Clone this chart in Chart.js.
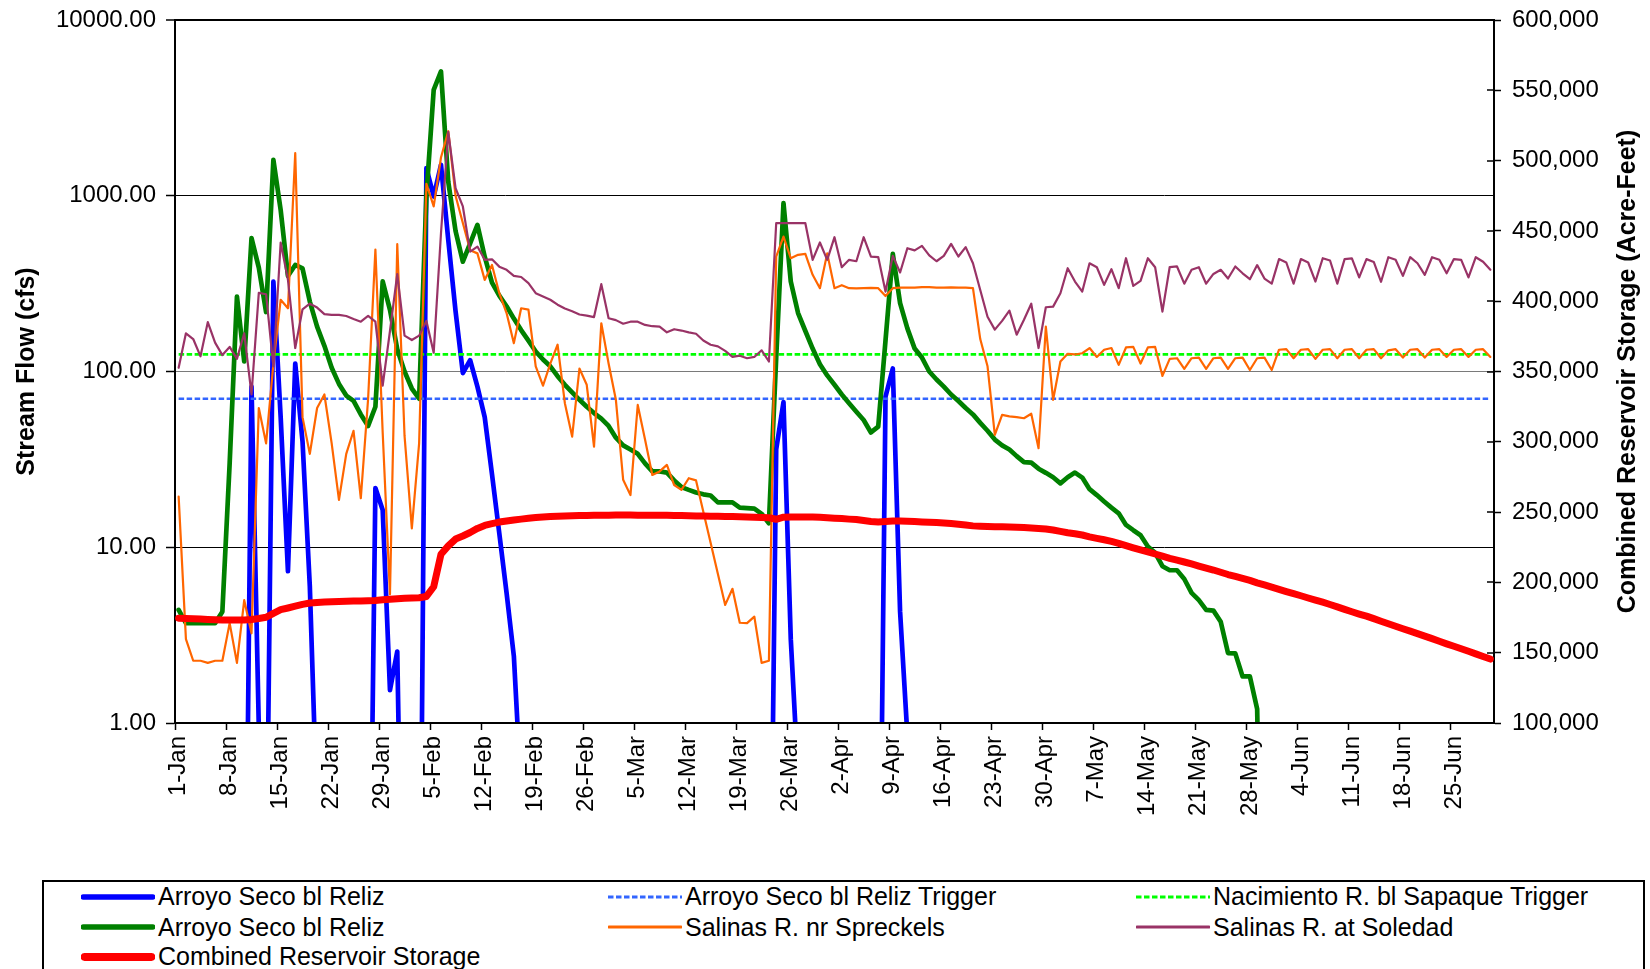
<!DOCTYPE html>
<html>
<head>
<meta charset="utf-8">
<title>Stream Flow and Combined Reservoir Storage</title>
<script src="https://cdn.jsdelivr.net/npm/chart.js@4.4.1/dist/chart.umd.min.js"></script>
<style>
  html, body { margin: 0; padding: 0; background: #fff; }
  #wrap { position: relative; width: 1650px; height: 969px; overflow: hidden; }
  #c { position: absolute; left: 0; top: 0; }
  #legend { position: absolute; left: 42px; top: 880px; width: 1603px; height: 120px;
            border: 2px solid #000; box-sizing: border-box; background: #fff; }
  .item { position: absolute; height: 30px; display: flex; align-items: center;
          font: 25px 'Liberation Sans', Arial, sans-serif; color: #000; white-space: nowrap; }
  .item svg { display: block; margin-right: 3px; }
</style>
</head>
<body>
<div id="wrap">
  <canvas id="c" width="1650" height="969"></canvas>
  <div id="legend"></div>
</div>
<script>
// ---- categories: daily, 1-Jan through 30-Jun ----
const monthLengths = [['Jan', 31], ['Feb', 28], ['Mar', 31], ['Apr', 30], ['May', 31], ['Jun', 30]];
const days = [];
monthLengths.forEach(([m, n]) => { for (let d = 1; d <= n; d++) days.push(d + '-' + m); });

// ---- left axis ticks (cfs, log scale) ----
const flowTicks = [1, 10, 100, 1000, 10000];

// ---- trigger flows (cfs) ----
const arroyoSecoTrigger = 70;
const nacimientoTrigger = 125;

// ---- Arroyo Seco bl Reliz, blue trace (cfs); 0.01 = no flow ----
const arroyoSecoA = [
  0.01, 0.01, 0.01, 0.01, 0.01, 0.01, 0.01, 0.01, 0.01, 0.01,
  82, 0.95, 0.08, 325, 55, 7.3, 111, 40, 6, 0.3,
  0.01, 0.01, 0.01, 0.01, 0.01, 0.01, 0.01, 21.7, 16.3, 1.54,
  2.55, 0.01, 0.01, 0.01, 1436, 990, 1500, 560, 220, 98,
  116, 82, 55, 26, 12, 5.5, 2.4, 0.4, 0.01, 0.01,
  0.01, 0.01, 0.01, 0.01, 0.01, 0.01, 0.01, 0.01, 0.01, 0.01,
  0.01, 0.01, 0.01, 0.01, 0.01, 0.01, 0.01, 0.01, 0.01, 0.01,
  0.01, 0.01, 0.01, 0.01, 0.01, 0.01, 0.01, 0.01, 0.01, 0.01,
  0.01, 0.01, 36, 67, 3.0, 0.5, 0.01, 0.01, 0.01, 0.01,
  0.01, 0.01, 0.01, 0.01, 0.01, 0.01, 0.01, 72, 104, 4.3,
  0.85, 0.01, 0.01, 0.01, 0.01, 0.01, 0.01, 0.01, 0.01, 0.01,
  0.01, 0.01, 0.01, 0.01, 0.01, 0.01, 0.01, 0.01, 0.01, 0.01,
  0.01, 0.01, 0.01, 0.01, 0.01, 0.01, 0.01, 0.01, 0.01, 0.01,
  0.01, 0.01, 0.01, 0.01, 0.01, 0.01, 0.01, 0.01, 0.01, 0.01,
  0.01, 0.01, 0.01, 0.01, 0.01, 0.01, 0.01, 0.01, 0.01, 0.01,
  0.01, 0.01, 0.01, 0.01, 0.01, 0.01, 0.01, 0.01, 0.01, 0.01,
  0.01, 0.01, 0.01, 0.01, 0.01, 0.01, 0.01, 0.01, 0.01, 0.01,
  0.01, 0.01, 0.01, 0.01, 0.01, 0.01, 0.01, 0.01, 0.01, 0.01,
  0.01
];

// ---- Arroyo Seco bl Reliz, green trace (cfs) ----
const arroyoSecoB = [
  4.4, 3.7, 3.7, 3.7, 3.7, 3.7, 4.3, 30, 267, 114,
  574, 390, 218, 1600, 830, 350, 404, 386, 250, 180,
  140, 105, 85, 73, 68, 57, 49, 63, 326, 224,
  134, 100, 80, 70, 1000, 4000, 5100, 1200, 630, 422,
  535, 683, 450, 320, 270, 235, 200, 172, 150, 130,
  117, 107, 94, 84, 76, 69, 63, 58, 54, 49,
  42, 38, 36, 34, 30, 27, 27, 26.6, 24, 22,
  21.2, 20.5, 20, 19.7, 18, 18, 18, 16.8, 16.7, 16.6,
  15.5, 13.7, 120, 908, 325, 215, 170, 135, 110, 95,
  84, 74, 66, 59, 53, 45, 48.6, 150, 467, 245,
  176, 135, 120, 100, 90, 82, 74, 68, 62, 57,
  51, 46, 41, 38, 36, 33, 30.5, 30.3, 28, 26.5,
  25, 23.1, 25, 26.6, 24.9, 21.4, 19.8, 18.2, 16.8, 15.6,
  13.4, 12.5, 11.7, 10.1, 9.3, 7.8, 7.4, 7.4, 6.6, 5.5,
  5.0, 4.4, 4.36, 3.77, 2.5, 2.49, 1.84, 1.84, 1.2, 0.01,
  0.01, 0.01, 0.01, 0.01, 0.01, 0.01, 0.01, 0.01, 0.01, 0.01,
  0.01, 0.01, 0.01, 0.01, 0.01, 0.01, 0.01, 0.01, 0.01, 0.01,
  0.01, 0.01, 0.01, 0.01, 0.01, 0.01, 0.01, 0.01, 0.01, 0.01,
  0.01
];

// ---- Salinas R. nr Spreckels (cfs) ----
const spreckels = [
  19.4, 3.0, 2.26, 2.26, 2.2, 2.26, 2.26, 3.7, 2.2, 5.0,
  3.24, 62, 39, 110, 256, 229, 1747, 55, 34, 62,
  74, 39, 18.6, 34, 46, 19, 70, 494, 45, 5.4,
  530, 43, 12.8, 39, 1170, 870, 1650, 2330, 1000, 700,
  490, 470, 332, 404, 279, 215, 145, 229, 225, 107,
  83, 111, 142, 66, 42.6, 104, 84, 37.4, 188, 111,
  69, 24.2, 19.8, 64.5, 41, 25.8, 27, 29.4, 22.6, 21.2,
  24.7, 24, 15.9, 10.6, 7.05, 4.7, 5.8, 3.72, 3.7, 4.03,
  2.2, 2.26, 451, 586, 441, 461, 467, 355, 298, 470,
  298, 310, 298, 297, 298, 299, 298, 269, 298, 300,
  300, 300, 302, 302, 300, 300, 301, 300, 300, 298,
  153, 107, 43.6, 56.6, 55.5, 55, 54.2, 57.5, 36.6, 180,
  69, 114, 126, 125, 127, 136, 121, 133, 136, 109,
  137, 138, 111, 137, 138, 94.4, 118, 119, 103.5, 119,
  120, 103.5, 119, 120, 103.5, 119, 120, 102, 119, 120,
  102, 133, 134, 119, 133, 134, 118, 133, 134, 119,
  133, 134, 119, 133, 134, 119, 132, 134, 120, 133,
  134, 120, 133, 134, 121, 133, 134, 121, 133, 134,
  121
];

// ---- Salinas R. at Soledad (cfs) ----
const soledad = [
  105, 165, 153, 122, 191, 146, 124, 138, 118, 165,
  74, 280, 275, 107, 542, 332, 136, 226, 243, 231,
  212, 210, 210, 207, 199, 192, 207, 192, 83, 170,
  358, 160, 151, 160, 194, 128, 612, 2310, 1105, 869,
  481, 514, 432, 435, 395, 379, 350, 345, 318, 279,
  267, 256, 240, 228, 220, 211, 208, 204, 314, 201,
  196, 187, 192, 192, 184, 181, 180, 167, 174, 171,
  167, 164, 150, 142, 139, 131, 121, 123, 119, 121,
  132, 114, 698, 698, 698, 698, 698, 432, 542, 432,
  581, 392, 432, 424, 581, 451, 448, 285, 455, 366,
  503, 489, 519, 458, 424, 455, 532, 451, 510, 413,
  291, 205, 173, 194, 222, 162, 197, 243, 136, 232,
  234, 279, 387, 325, 285, 413, 392, 311, 382, 298,
  441, 307, 328, 441, 392, 219, 393, 396, 316, 379,
  392, 316, 359, 379, 338, 396, 362, 335, 403, 338,
  316, 436, 417, 316, 436, 417, 325, 441, 428, 316,
  436, 440, 343, 436, 420, 324, 447, 432, 350, 447,
  413, 355, 447, 432, 362, 436, 432, 343, 447, 421,
  379
];

// ---- Combined Reservoir Storage (acre-feet) ----
const storage = [
  174500, 174300, 174100, 173900, 173700, 173500, 173300, 173200, 173200, 173300,
  173600, 174300, 175200, 178000, 180600, 181800, 183100, 184400, 185300, 185700,
  186000, 186300, 186500, 186600, 186700, 186800, 187000, 187200, 187600, 188000,
  188400, 188700, 188900, 189100, 190000, 196900, 220000, 226000, 230800, 233000,
  235500, 238400, 240500, 241800, 242900, 243700, 244400, 245000, 245600, 246100,
  246500, 246800, 247000, 247200, 247400, 247500, 247600, 247700, 247800, 247800,
  247900, 247900, 247900, 247800, 247800, 247800, 247700, 247700, 247600, 247500,
  247400, 247300, 247200, 247100, 247000, 246900, 246800, 246700, 246600, 246400,
  246200, 246000, 244900, 246400, 246600, 246600, 246600, 246500, 246300, 246000,
  245700, 245400, 245000, 244700, 244000, 243300, 243000, 243300, 243600, 243700,
  243500, 243300, 243000, 242800, 242600, 242300, 241900, 241400, 240800, 240200,
  239900, 239700, 239600, 239500, 239400, 239200, 239000, 238700, 238400, 238000,
  237300, 236300, 235300, 234600, 233700, 232400, 231300, 230300, 229200, 227800,
  226200, 224600, 223100, 221700, 220200, 218700, 217100, 215800, 214500, 213100,
  211600, 210200, 208800, 207200, 205600, 204200, 202800, 201400, 199700, 198200,
  196700, 195100, 193500, 192000, 190500, 188900, 187400, 185900, 184300, 182600,
  180800, 179100, 177500, 176000, 174200, 172400, 170600, 168800, 167000, 165300,
  163600, 161800, 160000, 158100, 156300, 154600, 152800, 151000, 149200, 147300,
  145500
];

const FONT = "'Liberation Sans', Arial, Helvetica, sans-serif";
const flowTitle = 'Stream Flow (cfs)';
const storageTitle = 'Combined Reservoir Storage (Acre-Feet)';

// series styling, listed in legend order
const series = [
  { label: 'Arroyo Seco bl Reliz', data: arroyoSecoA, color: '#0000FF', width: 4.7, axis: 'y' },
  { label: 'Arroyo Seco bl Reliz Trigger', data: days.map(() => arroyoSecoTrigger), color: '#3366FF', width: 2.5, dash: [5.5, 2.5], axis: 'y' },
  { label: 'Nacimiento R. bl Sapaque Trigger', data: days.map(() => nacimientoTrigger), color: '#00FF00', width: 2.7, dash: [5.5, 2.5], axis: 'y' },
  { label: 'Arroyo Seco bl Reliz', data: arroyoSecoB, color: '#008000', width: 4.7, axis: 'y' },
  { label: 'Salinas R. nr Spreckels', data: spreckels, color: '#FF6600', width: 2.2, axis: 'y' },
  { label: 'Salinas R. at Soledad', data: soledad, color: '#993366', width: 2.2, axis: 'y' },
  { label: 'Combined Reservoir Storage', data: storage, color: '#FF0000', width: 7, axis: 'y2' }
];

// later series are painted over earlier ones
const datasets = series.map((s, i) => ({
  label: s.label,
  data: s.data,
  yAxisID: s.axis,
  borderColor: s.color,
  backgroundColor: s.color,
  borderWidth: s.width,
  borderDash: s.dash || [],
  borderCapStyle: s.dash ? 'butt' : 'round',
  borderJoinStyle: 'round',
  pointRadius: 0,
  tension: 0,
  fill: false,
  order: series.length - i
}));

// inner half of the right-axis tick marks and the upward-reading right title
const axisExtras = {
  id: 'axisExtras',
  afterDraw(chart) {
    const { ctx, chartArea, scales } = chart;
    const y2 = scales.y2;
    ctx.save();
    ctx.strokeStyle = '#000';
    ctx.lineWidth = 1.5;
    ctx.beginPath();
    y2.ticks.forEach(t => {
      const py = Math.round(y2.getPixelForValue(t.value));
      ctx.moveTo(chartArea.right - 7, py);
      ctx.lineTo(chartArea.right, py);
    });
    ctx.stroke();
    ctx.translate(y2.right - 22, (chartArea.top + chartArea.bottom) / 2);
    ctx.rotate(-Math.PI / 2);
    ctx.font = 'bold 25px ' + FONT;
    ctx.fillStyle = '#000';
    ctx.textAlign = 'center';
    ctx.textBaseline = 'middle';
    ctx.fillText(storageTitle, 0, 0);
    ctx.restore();
  }
};

// fixed axis widths; the plot edges are set by layout padding alone
const fixWidth = w => s => { s.width = w; s.paddingTop = 0; s.paddingBottom = 0; };

Chart.defaults.font.family = FONT;
Chart.defaults.color = '#000';

new Chart(document.getElementById('c'), {
  type: 'line',
  data: { labels: days, datasets },
  options: {
    responsive: false,
    animation: false,
    layout: { padding: { top: 20, left: 0, right: 0, bottom: 0 } },
    plugins: { legend: { display: false }, tooltip: { enabled: false } },
    scales: {
      x: {
        type: 'category',
        offset: true,
        grid: {
          offset: true,
          drawOnChartArea: false,
          drawTicks: true,
          tickLength: 7,
          tickWidth: 1.5,
          tickColor: c => (c.index % 7 === 0 ? '#000' : 'rgba(0,0,0,0)')
        },
        border: { display: true, color: '#000', width: 2, z: 1 },
        ticks: {
          autoSkip: false,
          minRotation: 90,
          maxRotation: 90,
          padding: 6,
          font: { size: 24 },
          color: '#000',
          callback: (v, i) => (i % 7 === 0 ? days[i] : '')
        },
        afterFit: s => { s.height = 969 - 723; }
      },
      y: {
        type: 'logarithmic',
        position: 'left',
        min: 1,
        max: 10000,
        afterBuildTicks: s => { s.ticks = flowTicks.map(v => ({ value: v })); },
        ticks: {
          callback: v => Number(v).toFixed(2),
          font: { size: 24 },
          padding: 10,
          color: '#000'
        },
        grid: {
          color: c => (c.tick && c.tick.value === 100 ? '#7a7a7a' : '#000'),
          lineWidth: c => (c.tick && c.tick.value === 10000 ? 2 : 1),
          drawTicks: true,
          tickLength: 9,
          tickWidth: 1.5,
          tickColor: '#000'
        },
        border: { display: true, color: '#000', width: 2 },
        title: {
          display: true,
          text: flowTitle,
          font: { size: 25, weight: 'bold' },
          padding: { top: 12, bottom: 0 },
          color: '#000'
        },
        afterFit: fixWidth(175)
      },
      y2: {
        type: 'linear',
        position: 'right',
        min: 100000,
        max: 600000,
        ticks: {
          stepSize: 50000,
          callback: v => Number(v).toLocaleString('en-US'),
          font: { size: 24 },
          padding: 11,
          color: '#000'
        },
        grid: { drawOnChartArea: false, drawTicks: true, tickLength: 7, tickWidth: 1.5, tickColor: '#000' },
        border: { display: true, color: '#000', width: 2 },
        afterFit: fixWidth(156)
      }
    }
  },
  plugins: [axisExtras]
});

// ---- legend box below the chart ----
const legendCols = [81, 608, 1136];
const legendRows = [896.5, 927, 956.5];
const legendBox = document.getElementById('legend');
const boxLeft = 42 + 2, boxTop = 880 + 2;
series.forEach((s, i) => {
  const col = i % 3, row = Math.floor(i / 3);
  const item = document.createElement('div');
  item.className = 'item';
  item.style.left = (legendCols[col] - boxLeft) + 'px';
  item.style.top = (legendRows[row] - 15 - boxTop) + 'px';
  const w = 74, h = 14;
  const cap = s.dash ? 'butt' : 'round';
  const inset = s.dash ? 0 : s.width / 2;
  const dashAttr = s.dash ? ` stroke-dasharray="${s.dash.join(' ')}"` : '';
  const sw = s.width + (s.dash ? 0.5 : 0.8);
  item.innerHTML =
    `<svg width="${w}" height="${h}"><line x1="${inset}" y1="${h / 2}" x2="${w - inset}" y2="${h / 2}" ` +
    `stroke="${s.color}" stroke-width="${sw}" stroke-linecap="${cap}"${dashAttr}/></svg>` +
    `<span>${s.label}</span>`;
  legendBox.appendChild(item);
});
</script>
</body>
</html>
